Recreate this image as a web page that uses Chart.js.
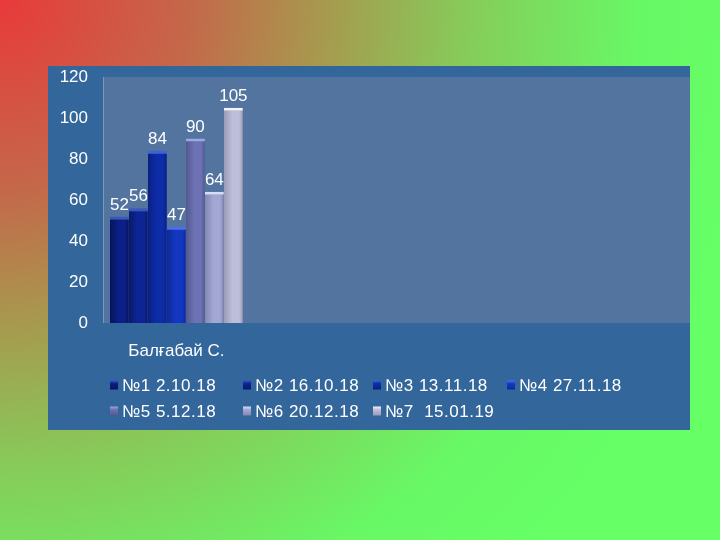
<!DOCTYPE html>
<html>
<head>
<meta charset="utf-8">
<script src="https://cdn.jsdelivr.net/npm/chart.js@4/dist/chart.umd.min.js"></script>
<style>
  html, body { margin: 0; padding: 0; }
  body {
    width: 720px; height: 540px; overflow: hidden; position: relative;
    background: radial-gradient(circle at 0 0, #e83a3a 0px, #c4684a 190px, #a8984e 320px, #86cc5a 470px, #68f866 640px, #66ff66 760px);
  }
  #panel { position: absolute; left: 48px; top: 66px; width: 642px; height: 364px; background: #33669a; }
</style>
</head>
<body>
<div id="panel"><canvas id="c" width="642" height="364"></canvas></div>
<script>
const categories = ['Балғабай С.', '', '', ''];
const seriesNames = ['№1 2.10.18', '№2 16.10.18', '№3 13.11.18', '№4 27.11.18', '№5 5.12.18', '№6 20.12.18', '№7  15.01.19'];
const scores = [52, 56, 84, 47, 90, 64, 105];
const yTicks = [0, 20, 40, 60, 80, 100, 120];
const barColors = ['#0b1f86', '#0e2494', '#0d2ca8', '#1437c2', '#6c72b4', '#a3a7d3', '#bdbed9'];
const edgeColors = ['#061456', '#081a6a', '#0a2080', '#0d2a98', '#52588e', '#8286b0', '#9c9cb8'];
const capColors = ['#3a56c0', '#3a56c0', '#3f62d8', '#4a70f0', '#a0a6e0', '#d8dcf4', '#f4f4fc'];

const FONT = '"Liberation Sans", Arial, sans-serif';
const CAT_PCT = 0.906;

function barFill(i) {
  return (context) => {
    const chart = context.chart;
    const xs = chart.scales.x;
    if (!xs || !chart.chartArea) return barColors[i];
    const catW = (xs.right - xs.left) / categories.length;
    const groupW = catW * CAT_PCT;
    const bw = groupW / seriesNames.length;
    const left = xs.getPixelForValue(0) - groupW / 2 + i * bw;
    const g = chart.ctx.createLinearGradient(left, 0, left + bw, 0);
    g.addColorStop(0, edgeColors[i]);
    g.addColorStop(0.45, barColors[i]);
    g.addColorStop(0.8, barColors[i]);
    g.addColorStop(1, edgeColors[i]);
    return g;
  };
}

const datasets = seriesNames.map((name, i) => ({
  label: name,
  data: [scores[i]],
  backgroundColor: barFill(i),
  borderColor: capColors[i],
  borderWidth: { top: 3, left: 0, right: 0, bottom: 0 },
  borderSkipped: false
}));

const plotBg = {
  id: 'plotBg',
  beforeDraw(chart) {
    const { ctx, chartArea: a } = chart;
    ctx.save();
    ctx.fillStyle = '#52749f';
    ctx.fillRect(a.left, a.top, a.right - a.left, a.bottom - a.top);
    ctx.strokeStyle = 'rgba(255,255,255,0.25)';
    ctx.lineWidth = 1;
    ctx.beginPath();
    ctx.moveTo(a.left + 0.5, a.top);
    ctx.lineTo(a.left + 0.5, a.bottom);
    ctx.stroke();
    ctx.restore();
  }
};

const valueLabels = {
  id: 'valueLabels',
  afterDatasetsDraw(chart) {
    const { ctx } = chart;
    ctx.save();
    ctx.fillStyle = '#ffffff';
    ctx.font = '17px ' + FONT;
    ctx.textAlign = 'center';
    ctx.textBaseline = 'bottom';
    chart.data.datasets.forEach((ds, i) => {
      const meta = chart.getDatasetMeta(i);
      meta.data.forEach((bar, j) => {
        const v = ds.data[j];
        if (v == null) return;
        ctx.fillText(String(v), bar.x, bar.y - 3);
      });
    });
    ctx.restore();
  }
};

// Legend laid out in columns like the original (Excel-style grid)
const columnLegend = {
  id: 'columnLegend',
  afterDraw(chart) {
    const { ctx } = chart;
    const colX = [62, 195, 325, 459];
    const rowY = [319, 345];
    ctx.save();
    ctx.font = '17px ' + FONT;
    try { ctx.letterSpacing = '0.5px'; } catch (e) {}
    ctx.textBaseline = 'middle';
    ctx.textAlign = 'left';
    seriesNames.forEach((name, i) => {
      const x = colX[i % 4];
      const y = rowY[Math.floor(i / 4)];
      const g = ctx.createLinearGradient(0, y - 4.5, 0, y + 4.5);
      g.addColorStop(0, capColors[i]);
      g.addColorStop(0.35, barColors[i]);
      g.addColorStop(1, edgeColors[i]);
      ctx.fillStyle = g;
      ctx.fillRect(x, y - 4.5, 8, 9);
      ctx.fillStyle = '#ffffff';
      ctx.fillText(name, x + 12, y + 1);
    });
    ctx.restore();
  }
};

new Chart(document.getElementById('c'), {
  type: 'bar',
  data: { labels: categories, datasets },
  options: {
    responsive: false,
    animation: false,
    devicePixelRatio: 1,
    layout: { padding: { left: 0, right: 0, top: 11, bottom: 62 } },
    datasets: { bar: { categoryPercentage: CAT_PCT, barPercentage: 1.0 } },
    scales: {
      x: {
        grid: { display: false, drawTicks: false },
        border: { display: false },
        ticks: { color: '#ffffff', font: { family: FONT, size: 17 }, padding: 18, maxRotation: 0, autoSkip: false },
        afterFit(s) { s.height = 45; s.paddingLeft = 0; s.paddingRight = 0; }
      },
      y: {
        min: 0, max: 120,
        afterBuildTicks(s) { s.ticks = yTicks.map(v => ({ value: v })); },
        grid: { display: false, drawTicks: false },
        border: { display: false },
        ticks: { color: '#ffffff', font: { family: FONT, size: 17 }, padding: 15 },
        afterFit(s) { s.width = 55; s.paddingTop = 0; s.paddingBottom = 0; }
      }
    },
    plugins: {
      legend: { display: false },
      tooltip: { enabled: false }
    }
  },
  plugins: [plotBg, valueLabels, columnLegend]
});
</script>
</body>
</html>
